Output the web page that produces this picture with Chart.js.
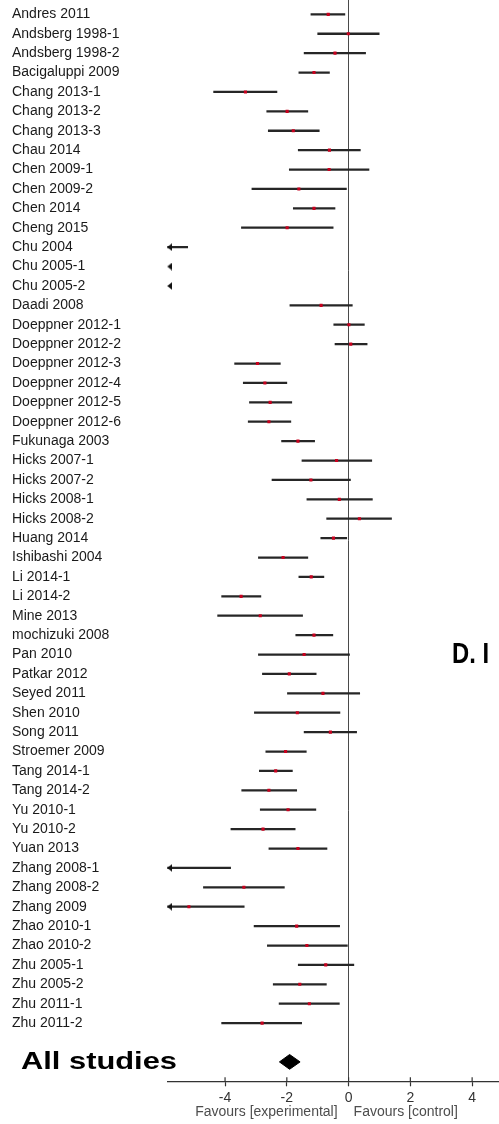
<!DOCTYPE html>
<html>
<head>
<meta charset="utf-8">
<script src="https://cdn.jsdelivr.net/npm/chart.js@4.4.1/dist/chart.umd.min.js"></script>
<style>
  html, body { margin: 0; padding: 0; background: #fff; }
  canvas { display: block; }
</style>
</head>
<body>
<canvas id="forest" width="499" height="1124"></canvas>
<script>
// studies, top to bottom
var studies = [
  "Andres 2011", "Andsberg 1998-1", "Andsberg 1998-2", "Bacigaluppi 2009",
  "Chang 2013-1", "Chang 2013-2", "Chang 2013-3", "Chau 2014",
  "Chen 2009-1", "Chen 2009-2", "Chen 2014", "Cheng 2015",
  "Chu 2004", "Chu 2005-1", "Chu 2005-2", "Daadi 2008",
  "Doeppner 2012-1", "Doeppner 2012-2", "Doeppner 2012-3", "Doeppner 2012-4",
  "Doeppner 2012-5", "Doeppner 2012-6", "Fukunaga 2003", "Hicks 2007-1",
  "Hicks 2007-2", "Hicks 2008-1", "Hicks 2008-2", "Huang 2014",
  "Ishibashi 2004", "Li 2014-1", "Li 2014-2", "Mine 2013",
  "mochizuki 2008", "Pan 2010", "Patkar 2012", "Seyed 2011",
  "Shen 2010", "Song 2011", "Stroemer 2009", "Tang 2014-1",
  "Tang 2014-2", "Yu 2010-1", "Yu 2010-2", "Yuan 2013",
  "Zhang 2008-1", "Zhang 2008-2", "Zhang 2009", "Zhao 2010-1",
  "Zhao 2010-2", "Zhu 2005-1", "Zhu 2005-2", "Zhu 2011-1", "Zhu 2011-2"
];

// effect size and 95% CI
// (Chu 2004/2005 and Zhang 2008-1 run off the left edge, so those ends are guesses)
var estimate = [
  -0.66, -0.01, -0.44, -1.12,
  -3.34, -1.99, -1.79, -0.62,
  -0.63, -1.61, -1.12, -1.99,
  -8.0, -9.2, -8.6, -0.89,
  0.01, 0.07, -2.95, -2.71,
  -2.54, -2.58, -1.64, -0.39,
  -1.22, -0.30, 0.35, -0.49,
  -2.12, -1.21, -3.48, -2.86,
  -1.12, -1.44, -1.92, -0.83,
  -1.66, -0.59, -2.04, -2.36,
  -2.58, -1.96, -2.77, -1.64,
  -6.9, -3.39, -5.17, -1.68,
  -1.35, -0.74, -1.58, -1.27, -2.80
];
var lower = [
  -1.22, -1.00, -1.44, -1.61,
  -4.37, -2.65, -2.60, -1.63,
  -1.92, -3.13, -1.79, -3.47,
  -10.8, -12.1, -11.2, -1.90,
  -0.48, -0.44, -3.69, -3.41,
  -3.21, -3.25, -2.17, -1.51,
  -2.48, -1.35, -0.71, -0.90,
  -2.92, -1.61, -4.11, -4.24,
  -1.71, -2.92, -2.79, -1.98,
  -3.05, -1.44, -2.68, -2.89,
  -3.46, -2.86, -3.81, -2.58,
  -10.0, -4.70, -6.96, -3.06,
  -2.63, -1.63, -2.44, -2.25, -4.11
];
var upper = [
  -0.12, 0.99, 0.55, -0.62,
  -2.32, -1.32, -0.95, 0.38,
  0.66, -0.07, -0.44, -0.50,
  -5.21, -6.3, -6.0, 0.12,
  0.51, 0.60, -2.21, -2.00,
  -1.84, -1.87, -1.10, 0.75,
  0.06, 0.77, 1.39, -0.06,
  -1.32, -0.80, -2.84, -1.49,
  -0.51, 0.03, -1.05, 0.36,
  -0.28, 0.26, -1.37, -1.82,
  -1.68, -1.06, -1.73, -0.70,
  -3.82, -2.08, -3.38, -0.29,
  -0.04, 0.17, -0.72, -0.30, -1.52
];

// pooled result
var pooledLabel = "All studies";
var pooledEstimate = -1.91;
var pooledLower = -2.24;
var pooledUpper = -1.57;

var xTicks = [-4, -2, 0, 2, 4];
var xMin = -5.87;
var xMax = 4.87;

var pooledRow = studies.length + 1;
var diamondHalf = 0.38;

// left pointing arrow head for CIs that leave the axis
var arrow = document.createElement("canvas");
arrow.width = 10;
arrow.height = 8;
var actx = arrow.getContext("2d");
actx.fillStyle = "#111";
actx.beginPath();
actx.moveTo(5, 4);
actx.lineTo(10, 0);
actx.lineTo(10, 8);
actx.closePath();
actx.fill();

var ciData = studies.map(function (s, i) {
  return { x: [lower[i], upper[i]], y: i };
});
var pointData = studies.map(function (s, i) {
  return { x: estimate[i], y: i };
});
var arrowData = [];
studies.forEach(function (s, i) {
  if (lower[i] < xMin) arrowData.push({ x: xMin, y: i });
});
var diamondData = [
  { x: pooledLower, y: pooledRow },
  { x: pooledEstimate, y: pooledRow - diamondHalf },
  { x: pooledUpper, y: pooledRow },
  { x: pooledEstimate, y: pooledRow + diamondHalf },
  { x: pooledLower, y: pooledRow }
];

var FONT = "'Liberation Sans', Arial, sans-serif";

// extra text: pooled label, favours labels, panel letter, tick stubs above axis
var extras = {
  id: "extras",
  afterDraw: function (chart) {
    var ctx = chart.ctx;
    var xs = chart.scales.x;
    var ys = chart.scales.y;
    var area = chart.chartArea;
    ctx.save();

    ctx.strokeStyle = "#333";
    ctx.lineWidth = 1.2;
    xTicks.forEach(function (v) {
      var px = xs.getPixelForValue(v);
      ctx.beginPath();
      ctx.moveTo(px, area.bottom - 4);
      ctx.lineTo(px, area.bottom);
      ctx.stroke();
    });

    // All studies (stretched like the original)
    ctx.fillStyle = "#000";
    ctx.font = "bold 24px " + FONT;
    ctx.textBaseline = "alphabetic";
    ctx.textAlign = "left";
    var w = ctx.measureText(pooledLabel).width;
    ctx.save();
    ctx.translate(21, ys.getPixelForValue(pooledRow) + 7);
    ctx.scale(156 / w, 1);
    ctx.fillText(pooledLabel, 0, 0);
    ctx.restore();

    // panel letter, cut off at the right
    ctx.font = "bold 29px " + FONT;
    var w2 = ctx.measureText("D. I").width;
    ctx.save();
    ctx.translate(452, 663);
    ctx.scale(37 / w2, 1);
    ctx.fillText("D. I", 0, 0);
    ctx.restore();

    // favours labels
    ctx.font = "14px " + FONT;
    ctx.fillStyle = "#4d4d4d";
    var zero = xs.getPixelForValue(0);
    ctx.textAlign = "right";
    ctx.fillText("Favours [experimental]", zero - 11, area.bottom + 35);
    ctx.textAlign = "left";
    ctx.fillText("Favours [control]", zero + 5, area.bottom + 35);

    ctx.restore();
  }
};

new Chart(document.getElementById("forest"), {
  type: "bar",
  data: {
    datasets: [
      {
        type: "scatter",
        data: pointData,
        pointStyle: "rect",
        pointRadius: 2.2,
        pointBackgroundColor: "#c8001e",
        pointBorderWidth: 0,
        clip: 0,
        order: 0
      },
      {
        type: "scatter",
        data: arrowData,
        pointStyle: arrow,
        pointRadius: 4,
        clip: false,
        order: 1
      },
      {
        type: "line",
        data: diamondData,
        fill: "shape",
        backgroundColor: "#000",
        borderColor: "#000",
        borderWidth: 1,
        pointRadius: 0,
        tension: 0,
        order: 1
      },
      {
        type: "bar",
        indexAxis: "y",
        data: ciData,
        backgroundColor: "#262626",
        barThickness: 1.6,
        clip: 0,
        order: 2
      }
    ]
  },
  options: {
    responsive: false,
    animation: false,
    layout: { autoPadding: false, padding: { left: 12, top: 0, right: 0, bottom: 0 } },
    plugins: {
      legend: { display: false },
      tooltip: { enabled: false }
    },
    scales: {
      x: {
        type: "linear",
        min: xMin,
        max: xMax,
        offset: false,
        afterBuildTicks: function (scale) {
          scale.ticks = xTicks.map(function (v) { return { value: v }; });
        },
        afterFit: function (scale) {
          scale.height = 42.7;
          scale.paddingLeft = 0;
          scale.paddingRight = 0;
        },
        border: { color: "#333", width: 1.2 },
        grid: {
          offset: false,
          color: function (c) {
            return c.tick && c.tick.value === 0 ? "#4a4a4a" : "rgba(0,0,0,0)";
          },
          lineWidth: 1,
          tickLength: 5,
          tickColor: "#333",
          tickWidth: 1.2
        },
        ticks: {
          padding: 3,
          color: "#333",
          font: { family: FONT, size: 14 },
          callback: function (v) { return String(v); }
        }
      },
      y: {
        type: "linear",
        reverse: true,
        min: -0.74,
        max: studies.length + 2,
        offset: false,
        afterBuildTicks: function (scale) {
          scale.ticks = studies.map(function (s, i) { return { value: i }; });
        },
        afterFit: function (scale) {
          scale.width = 155.3;
          scale.paddingTop = 0;
          scale.paddingBottom = 0;
        },
        border: { display: false },
        grid: { display: false, offset: false },
        ticks: {
          autoSkip: false,
          crossAlign: "far",
          color: "#1a1a1a",
          font: { family: FONT, size: 14 },
          callback: function (v) { return studies[v] || ""; }
        }
      }
    }
  },
  plugins: [extras]
});
</script>
</body>
</html>
